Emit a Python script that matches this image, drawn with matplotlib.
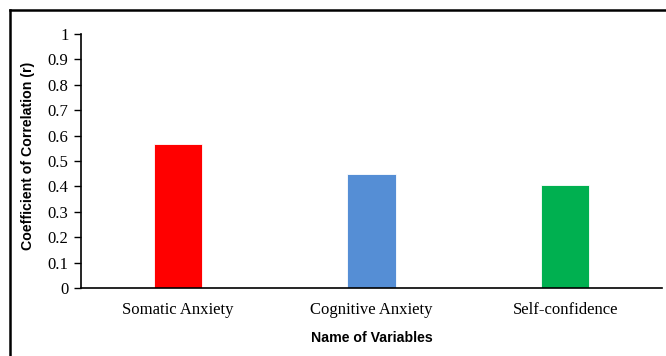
import matplotlib
matplotlib.use("Agg")
import matplotlib.pyplot as plt
from matplotlib.lines import Line2D
from matplotlib import font_manager

categories = ["Somatic Anxiety", "Cognitive Anxiety", "Self-confidence"]
values = [0.566, 0.449, 0.405]
colors = ["#FF0000", "#558ED5", "#00B050"]
yticks = [0, 0.1, 0.2, 0.3, 0.4, 0.5, 0.6, 0.7, 0.8, 0.9, 1]
ytick_labels = ["0", "0.1", "0.2", "0.3", "0.4", "0.5", "0.6", "0.7", "0.8", "0.9", "1"]

W, H = 666, 356
fig = plt.figure(figsize=(W / 100, H / 100), dpi=100)
ax = fig.add_axes([81 / W, 1 - 288 / H, (662 - 81) / W, (288 - 34) / H])

x = list(range(len(categories)))
ax.bar(x, values, width=0.25, color=colors, edgecolor="white", linewidth=0.6)
ax.set_xlim(-0.5, 2.5)
ax.set_ylim(0, 1)

serif = ["Liberation Serif", "DejaVu Serif"]
names = {f.name for f in font_manager.fontManager.ttflist}
narrow = "Liberation Sans Narrow" if "Liberation Sans Narrow" in names else "Liberation Sans"

ax.set_yticks(yticks)
ax.set_yticklabels(ytick_labels, family=serif, fontsize=12)
ax.set_xticks(x)
ax.set_xticklabels(categories, family=serif, fontsize=12)
ax.tick_params(axis="y", direction="out", length=5, width=1, pad=4, colors="#000000")
ax.tick_params(axis="x", length=0, pad=10)

for s in ["top", "right"]:
    ax.spines[s].set_visible(False)
ax.spines["left"].set_linewidth(1.2)
ax.spines["bottom"].set_linewidth(1.2)

ax.set_ylabel("Coefficient of Correlation (r)", family=narrow, fontweight="bold", fontsize=10.2)
ax.set_xlabel("Name of Variables", family=narrow, fontweight="bold", fontsize=10.2)
ax.yaxis.set_label_coords(-46 / 581, 0.52)
ax.xaxis.set_label_coords(0.5, -43 / 254)

fig.add_artist(Line2D([10 / W, 1], [1 - 10 / H, 1 - 10 / H], color="black", linewidth=1.8, transform=fig.transFigure))
fig.add_artist(Line2D([10 / W, 10 / W], [1 - 10 / H, 0], color="black", linewidth=1.8, transform=fig.transFigure))

fig.savefig("out.png", dpi=100)
